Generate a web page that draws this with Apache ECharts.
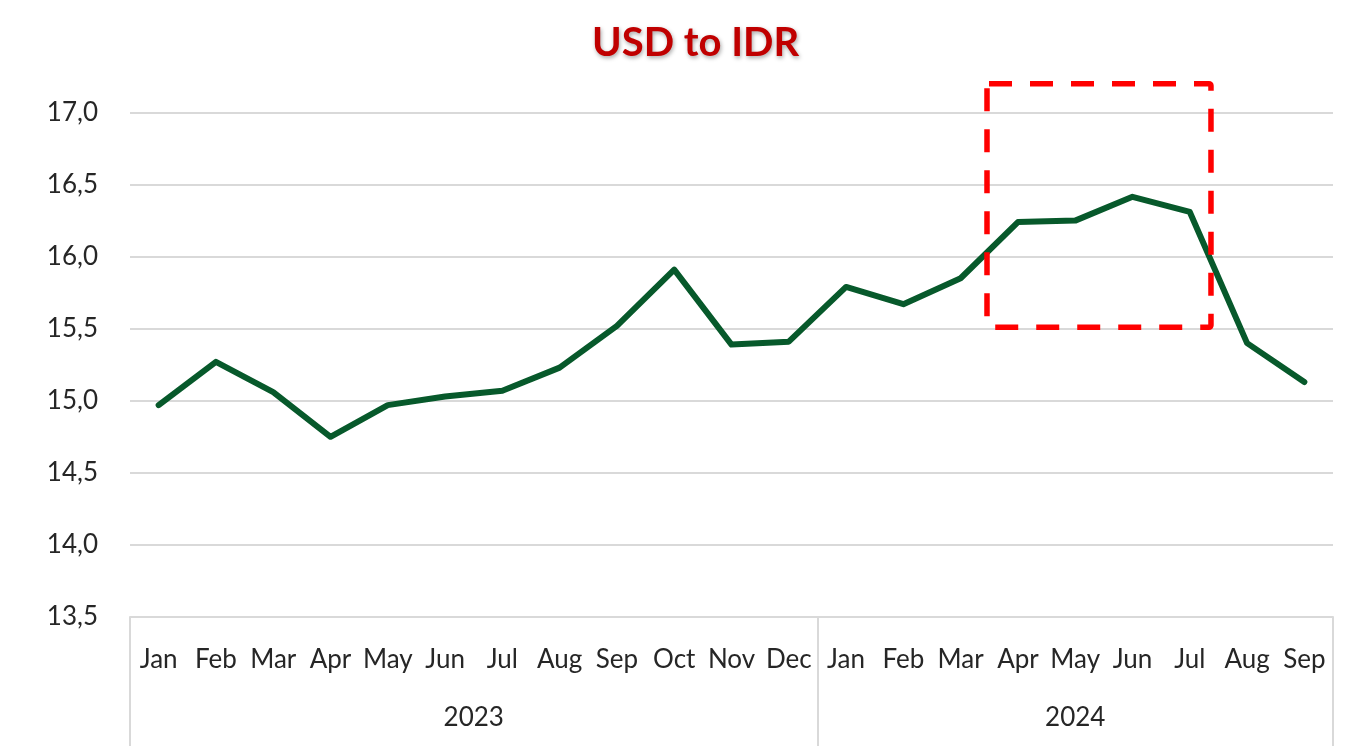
<!DOCTYPE html>
<html>
<head>
<meta charset="utf-8">
<script src="https://cdn.jsdelivr.net/npm/echarts@6/dist/echarts.min.js"></script>
<style>html,body{margin:0;padding:0;background:#fff}#c{width:1345px;height:746px}</style>
</head>
<body>
<div id="c"></div>
<script>
var months = ['Jan','Feb','Mar','Apr','May','Jun','Jul','Aug','Sep','Oct','Nov','Dec',
              'Jan','Feb','Mar','Apr','May','Jun','Jul','Aug','Sep'];
var usdIdr = [14.97,15.27,15.06,14.75,14.97,15.03,15.07,15.23,15.52,15.91,15.39,15.41,
              15.79,15.67,15.85,16.24,16.25,16.415,16.31,15.40,15.13];
var years = ['2023','2024'];
var yearBounds = [0,12,21];          // category index boundaries of each year
var yearCenters = [6,16.5];
var highlightBox = [[14.96,17.2],[18.87,15.51]]; // [x(category index), y(value)]
var yTicks = {min:13.5, max:17.0, interval:0.5};

var FONT = 'Lato';
var chart = echarts.init(document.getElementById('c'));
chart.setOption({
  animation:false,
  title:{
    text:'USD to IDR', left:592, top:23, padding:0,
    textStyle:{fontFamily:FONT, fontWeight:'bold', fontSize:40, color:'#C00000',
      textShadowColor:'rgba(0,0,0,0.35)', textShadowBlur:4, textShadowOffsetX:1, textShadowOffsetY:2}
  },
  grid:{left:130, right:12, top:112.5, bottom:129, containLabel:false},
  xAxis:[{
    type:'category', data:months, boundaryGap:true,
    axisLine:{show:true, lineStyle:{color:'#D9D9D9', width:2}},
    axisTick:{show:false},
    axisLabel:{interval:0, fontFamily:FONT, fontSize:26, color:'#262626', margin:30}
  },{
    type:'value', min:0, max:21, position:'bottom',
    axisLine:{show:false}, splitLine:{show:false},
    axisTick:{show:true, customValues:yearBounds, length:130, lineStyle:{color:'#D9D9D9', width:2}},
    axisLabel:{show:true, customValues:yearCenters, fontFamily:FONT, fontSize:26, color:'#262626', margin:88,
      formatter:function(v){ return years[yearCenters.indexOf(v)] || ''; }}
  }],
  yAxis:{
    type:'value', min:yTicks.min, max:yTicks.max, interval:yTicks.interval,
    axisLine:{show:false}, axisTick:{show:false},
    splitLine:{lineStyle:{color:'#D9D9D9', width:2}},
    axisLabel:{fontFamily:FONT, fontSize:26, color:'#262626', margin:32,
      formatter:function(v){ return v.toFixed(1).replace('.', ','); }}
  },
  series:[{
    type:'line', data:usdIdr, xAxisIndex:0, symbol:'none',
    lineStyle:{color:'#07592B', width:6, cap:'round', join:'round'}
  }]
});

var finder = {xAxisIndex:1, yAxisIndex:0};
var p0 = chart.convertToPixel(finder, highlightBox[0]);
var p1 = chart.convertToPixel(finder, highlightBox[1]);
chart.setOption({
  graphic:[{
    type:'rect', silent:true, z:10,
    shape:{x:Math.min(p0[0],p1[0]), y:Math.min(p0[1],p1[1]),
           width:Math.abs(p1[0]-p0[0]), height:Math.abs(p1[1]-p0[1]), r:2},
    style:{fill:'none', stroke:'#FF0000', lineWidth:5.5, lineDash:[23,18], lineJoin:'round'}
  }]
});
</script>
</body>
</html>
